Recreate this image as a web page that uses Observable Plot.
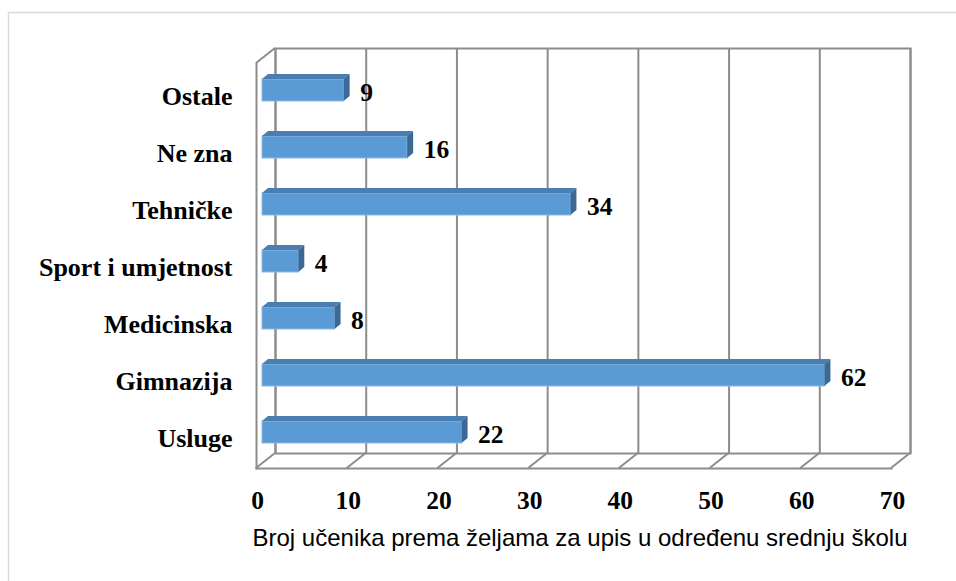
<!DOCTYPE html>
<html><head><meta charset="utf-8">
<script src="https://cdn.jsdelivr.net/npm/d3@7"></script>
<script src="https://cdn.jsdelivr.net/npm/@observablehq/plot@0.6"></script>
<style>body{margin:0;background:#fff;overflow:hidden}</style>
</head><body><div id="chart"></div>
<script>
const categories = ["Ostale", "Ne zna", "Tehničke", "Sport i umjetnost", "Medicinska", "Gimnazija", "Usluge"];
const values = [9, 16, 34, 4, 8, 62, 22];
const xTicks = [0, 10, 20, 30, 40, 50, 60, 70];
const axisTitle = "Broj učenika prema željama za upis u određenu srednju školu";

const data = categories.map((c, i) => ({category: c, value: values[i]}));

const wallColor = "#8c8c8c";
const serif = "'Liberation Serif', 'Times New Roman', serif";
const sans = "'Liberation Sans', Arial, sans-serif";
const BACK = 13, FRONT_X = -6, FRONT_Y = 15;

function outerBorder(index, scales, vals, dims) {
  const g = d3.create("svg:g").attr("stroke", "#d9d9d9").attr("stroke-width", 1.5);
  g.append("line").attr("x1", 8.5).attr("y1", 12.5).attr("x2", dims.width).attr("y2", 12.5);
  g.append("line").attr("x1", 8.5).attr("y1", 12.5).attr("x2", 8.5).attr("y2", dims.height);
  return g.node();
}

function wallDiagonals(index, scales, vals, dims) {
  const {x} = scales;
  const top = dims.marginTop, bottom = dims.height - dims.marginBottom;
  const segs = xTicks.map(v => [x(v) + BACK, bottom, x(v) + FRONT_X, bottom + FRONT_Y]);
  segs.push([x(0) + FRONT_X, top + FRONT_Y, x(0) + BACK, top]);
  const g = d3.create("svg:g").attr("stroke", wallColor).attr("stroke-width", 2).attr("fill", "none");
  g.selectAll("line").data(segs).join("line")
    .attr("x1", d => d[0]).attr("y1", d => d[1]).attr("x2", d => d[2]).attr("y2", d => d[3]);
  return g.node();
}

function barFaces(index, scales, vals, dims) {
  const {x, y} = scales;
  const bw = y.bandwidth();
  const ox = 6, oy = -5;
  const g = d3.create("svg:g");
  for (const d of data) {
    const x0 = x(0), x1 = x(d.value), yt = y(d.category), yb = yt + bw;
    g.append("path").attr("fill", "#4a7db0")
      .attr("d", `M${x0},${yt}L${x1},${yt}L${x1 + ox},${yt + oy}L${x0 + ox},${yt + oy}Z`);
    g.append("path").attr("fill", "#3b6894")
      .attr("d", `M${x1},${yt}L${x1 + ox},${yt + oy}L${x1 + ox},${yb + oy}L${x1},${yb}Z`);
  }
  return g.node();
}

const chart = Plot.plot({
  width: 956,
  height: 581,
  marginLeft: 262,
  marginRight: 59,
  marginTop: 48,
  marginBottom: 128,
  style: {background: "#fff"},
  x: {domain: [0, 70]},
  y: {domain: categories, range: [59, 463], paddingInner: 0.62, paddingOuter: 0.31},
  marks: [
    outerBorder,
    Plot.ruleX(xTicks, {dx: BACK, stroke: wallColor, strokeWidth: 2}),
    Plot.frame({dx: BACK, stroke: wallColor, strokeWidth: 2}),
    Plot.frame({anchor: "left", dx: FRONT_X, dy: FRONT_Y, stroke: wallColor, strokeWidth: 2}),
    Plot.frame({anchor: "bottom", dx: FRONT_X, dy: FRONT_Y, stroke: wallColor, strokeWidth: 2}),
    wallDiagonals,
    Plot.barX(data, {x: "value", y: "category", fill: "#5b9bd5", stroke: "#8db8e2", strokeWidth: 1}),
    barFaces,
    Plot.text(data, {x: "value", y: "category", text: "value", dx: 16, dy: 2, textAnchor: "start",
      fontFamily: serif, fontWeight: "bold", fontSize: 25.5, fill: "#000"}),
    Plot.axisY({tickSize: 0, tickPadding: 30, dy: 6, label: null, fontFamily: serif, fontWeight: "bold", fontSize: 26, fill: "#000"}),
    Plot.axisX({ticks: xTicks, tickSize: 0, tickPadding: 37, dx: -5, label: null, fontFamily: serif, fontWeight: "bold", fontSize: 25.5, fill: "#000"}),
    Plot.text([axisTitle], {frameAnchor: "bottom", dy: 92, fontFamily: sans, fontSize: 24, fill: "#000"})
  ]
});
document.getElementById("chart").append(chart);
</script>
</body></html>
